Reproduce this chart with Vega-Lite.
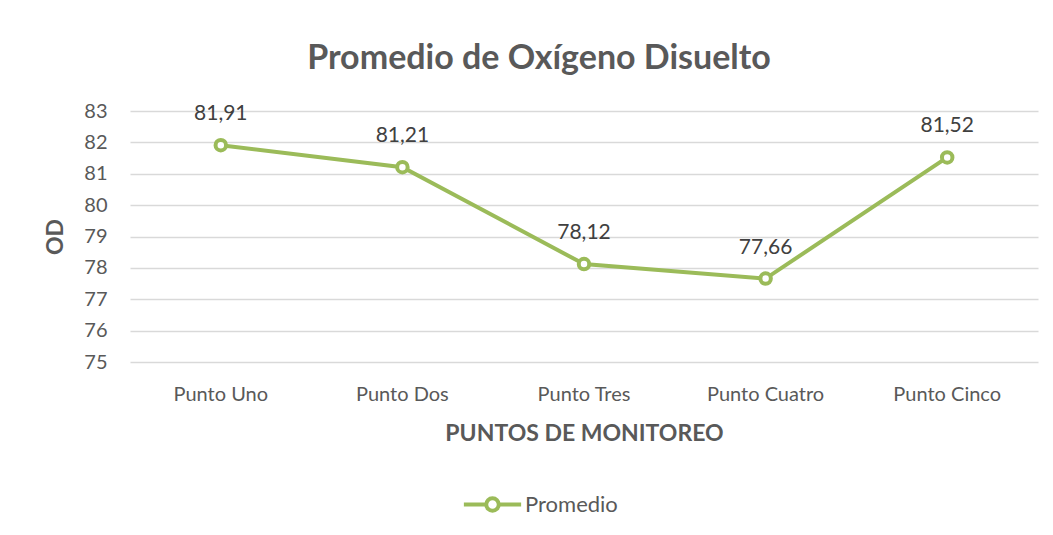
{
  "$schema": "https://vega.github.io/schema/vega-lite/v6.json",
  "width": 908,
  "height": 251,
  "autosize": {"type": "none"},
  "padding": {"left": 130, "top": 111, "right": 15, "bottom": 173},
  "background": "white",
  "config": {
    "font": "Lato",
    "view": {"stroke": null},
    "locale": {"number": {"decimal": ",", "thousands": ".", "grouping": [3], "currency": ["", "€"]}}
  },
  "title": {
    "text": "Promedio de Oxígeno Disuelto",
    "fontSize": 34,
    "fontWeight": "bold",
    "color": "#595959",
    "font": "Lato",
    "anchor": "middle",
    "dx": -45,
    "baseline": "bottom",
    "offset": -9
  },
  "data": {
    "values": [
      {"punto": "Punto Uno", "od": 81.91, "serie": "Promedio"},
      {"punto": "Punto Dos", "od": 81.21, "serie": "Promedio"},
      {"punto": "Punto Tres", "od": 78.12, "serie": "Promedio"},
      {"punto": "Punto Cuatro", "od": 77.66, "serie": "Promedio"},
      {"punto": "Punto Cinco", "od": 81.52, "serie": "Promedio"}
    ]
  },
  "encoding": {
    "x": {
      "field": "punto",
      "type": "nominal",
      "sort": null,
      "scale": {"type": "band", "paddingInner": 0, "paddingOuter": 0},
      "axis": {
        "title": "PUNTOS DE MONITOREO",
        "titleFontSize": 23,
        "titleFontWeight": "bold",
        "titleColor": "#595959",
        "titlePadding": 18,
        "labelFontSize": 20,
        "labelColor": "#595959",
        "labelAngle": 0,
        "labelPadding": 22,
        "ticks": false,
        "domain": false,
        "grid": false
      }
    },
    "y": {
      "field": "od",
      "type": "quantitative",
      "scale": {"domain": [75, 83], "nice": false, "zero": false},
      "axis": {
        "title": "OD",
        "titleFontSize": 23,
        "titleFontWeight": "bold",
        "titleColor": "#595959",
        "titlePadding": 16,
        "labelFontSize": 20,
        "labelColor": "#595959",
        "labelPadding": 23,
        "values": [75, 76, 77, 78, 79, 80, 81, 82, 83],
        "ticks": false,
        "domain": false,
        "grid": true,
        "gridColor": "#d9d9d9",
        "gridWidth": 1.5
      }
    }
  },
  "layer": [
    {
      "mark": {"type": "line", "strokeWidth": 4, "color": "#9bbb59"},
      "encoding": {
        "color": {
          "field": "serie",
          "type": "nominal",
          "scale": {"range": ["#9bbb59"]},
          "legend": {
            "title": null,
            "orient": "none",
            "legendX": 349,
            "legendY": 380,
            "labelFontSize": 22,
            "labelColor": "#595959",
            "symbolType": "M -2.56 0 L -0.56 0 M 0.56 0 L 2.56 0 M 0.56 0 A 0.56 0.56 0 1 1 -0.56 0 A 0.56 0.56 0 1 1 0.56 0 Z",
            "symbolSize": 500,
            "symbolStrokeWidth": 4,
            "symbolStrokeColor": "#9bbb59",
            "symbolFillColor": "white",
            "symbolOpacity": 1,
            "labelOffset": 19
          }
        }
      }
    },
    {
      "mark": {"type": "point", "shape": "circle", "filled": true, "fill": "white", "stroke": "#9bbb59", "strokeWidth": 4, "size": 110, "opacity": 1}
    },
    {
      "mark": {"type": "text", "dy": -31, "fontSize": 21, "color": "#404040", "font": "Lato"},
      "encoding": {
        "text": {"field": "od", "type": "quantitative", "format": ".2f"}
      }
    }
  ]
}
